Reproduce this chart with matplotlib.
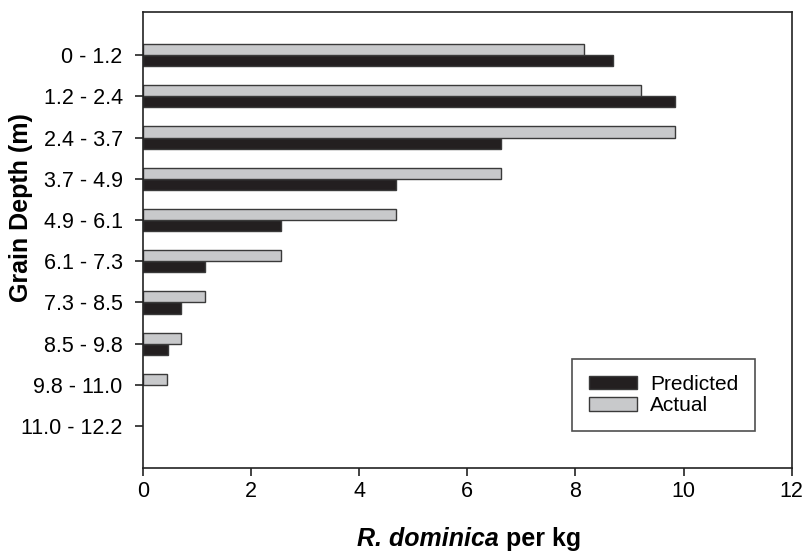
import numpy as np
import matplotlib
matplotlib.use('Agg')
import matplotlib.pyplot as plt

plt.rcParams['font.family'] = ['Liberation Sans', 'DejaVu Sans']

depths = ['0 - 1.2', '1.2 - 2.4', '2.4 - 3.7', '3.7 - 4.9', '4.9 - 6.1',
          '6.1 - 7.3', '7.3 - 8.5', '8.5 - 9.8', '9.8 - 11.0', '11.0 - 12.2']
predicted = [8.69, 9.85, 6.62, 4.69, 2.55, 1.15, 0.70, 0.46, 0.0, 0.0]
actual = [8.15, 9.22, 9.85, 6.62, 4.69, 2.55, 1.15, 0.70, 0.45, 0.0]

fig = plt.figure(figsize=(8.07, 5.54), dpi=100)
ax = fig.add_axes([0.177, 0.155, 0.804, 0.823])

y = np.arange(len(depths))
h = 0.27
# no outline on empty bars
lw_pred = [1.0 if v > 0 else 0 for v in predicted]
lw_act = [1.0 if v > 0 else 0 for v in actual]
ax.barh(y + h / 2, predicted, height=h, color='#231f20', edgecolor='#3a3a3a',
        linewidth=lw_pred, label='Predicted')
ax.barh(y - h / 2, actual, height=h, color='#c8c9cb', edgecolor='#3a3a3a',
        linewidth=lw_act, label='Actual')

ax.set_xlim(0, 12)
ax.set_ylim(10.02, -1.04)
ax.set_xticks(np.arange(0, 13, 2))
ax.set_yticks(y)
ax.set_yticklabels(depths)
ax.tick_params(labelsize=15.5, length=6, width=1.2, direction='out', color='#222222')
ax.tick_params(axis='y', pad=8.5)
for s in ax.spines.values():
    s.set_linewidth(1.2)
    s.set_color('#222222')

# x label: italic species name then plain bold text
t1 = ax.text(0.33, -0.13, 'R. dominica', transform=ax.transAxes, fontsize=18,
             fontweight='bold', style='italic', ha='left', va='top')
ax.annotate(' per kg', xy=(1, 0), xycoords=t1, fontsize=18, fontweight='bold',
            ha='left', va='bottom')
ax.set_ylabel('Grain Depth (m)', fontsize=18, fontweight='bold')
ax.yaxis.set_label_coords(-0.17, 0.572)

leg = ax.legend(loc='lower right', bbox_to_anchor=(0.943, 0.081), fontsize=15,
                frameon=True, fancybox=False, edgecolor='#222222',
                handlelength=2.35, handleheight=0.62, handletextpad=0.62,
                borderpad=0.77, labelspacing=0.1, borderaxespad=0)
leg.get_frame().set_linewidth(1.2)

fig.savefig('out.png', dpi=100)
